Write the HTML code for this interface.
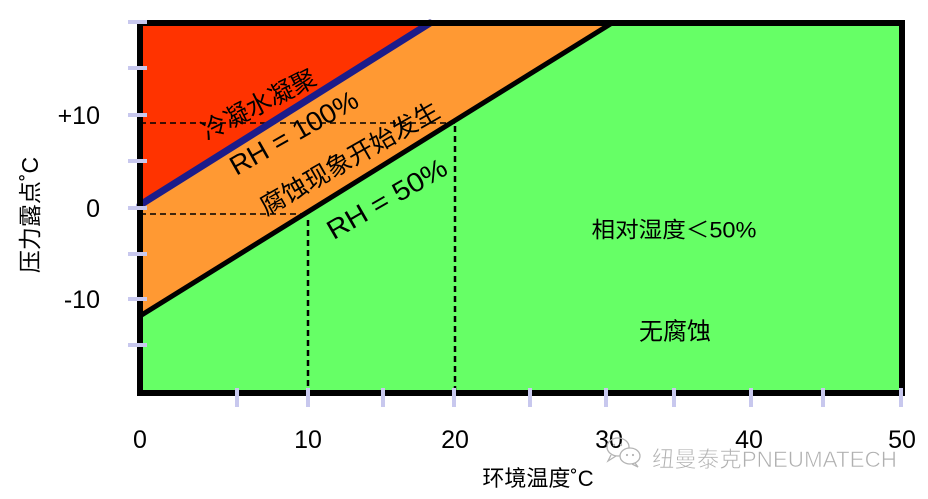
<!DOCTYPE html>
<html><head><meta charset="utf-8">
<style>
html,body{margin:0;padding:0;background:#fff;}
svg{display:block;}
text{font-family:"Liberation Sans","Noto Sans CJK SC",sans-serif;}
</style></head>
<body>
<svg width="928" height="499" viewBox="0 0 928 499" xmlns="http://www.w3.org/2000/svg">
  <rect x="0" y="0" width="928" height="499" fill="#fff"/>
  <!-- regions -->
  <rect x="140" y="23" width="762" height="370" fill="#66ff66"/>
  <polygon points="140,23 612,23 140,316" fill="#ff9933"/>
  <polygon points="140,23 430,23 140,205" fill="#ff3300"/>
  <!-- dashed guides -->
  <g stroke="#000" fill="none">
    <line x1="140" y1="123" x2="455" y2="123" stroke-width="1.5" stroke-dasharray="6 4"/>
    <line x1="455" y1="126" x2="455" y2="393" stroke-width="2.5" stroke-dasharray="6 4"/>
    <line x1="140" y1="214" x2="305" y2="214" stroke-width="1.5" stroke-dasharray="6 4"/>
    <line x1="308" y1="220" x2="308" y2="393" stroke-width="2.5" stroke-dasharray="6 4"/>
  </g>
  <!-- boundary lines -->
  <line x1="140" y1="316" x2="612" y2="23" stroke="#000" stroke-width="5"/>
  <line x1="140" y1="205" x2="430" y2="23" stroke="#1c1c8a" stroke-width="7" stroke-linecap="round"/>
  <!-- frame -->
  <rect x="140" y="23" width="762" height="370" fill="none" stroke="#000" stroke-width="6"/>
  <!-- ticks -->
  <g fill="#c8c8ee">
    <rect x="128" y="20" width="19" height="4"/>
    <rect x="128" y="66" width="19" height="4"/>
    <rect x="128" y="113" width="19" height="4"/>
    <rect x="128" y="159" width="19" height="4"/>
    <rect x="128" y="206" width="19" height="4"/>
    <rect x="128" y="252" width="19" height="4"/>
    <rect x="128" y="297" width="19" height="4"/>
    <rect x="128" y="343" width="19" height="4"/>
    <rect x="235" y="388" width="4" height="19"/>
    <rect x="306" y="388" width="4" height="19"/>
    <rect x="381" y="388" width="4" height="19"/>
    <rect x="452" y="388" width="4" height="19"/>
    <rect x="528" y="388" width="4" height="19"/>
    <rect x="604" y="388" width="4" height="19"/>
    <rect x="672" y="388" width="4" height="19"/>
    <rect x="749" y="388" width="4" height="19"/>
    <rect x="821" y="388" width="4" height="19"/>
    <rect x="899" y="388" width="4" height="19"/>
  </g>
  <!-- y labels -->
  <g font-size="25" fill="#000" text-anchor="end">
    <text x="100" y="124">+10</text>
    <text x="100" y="217">0</text>
    <text x="100" y="308">-10</text>
  </g>
  <!-- x labels -->
  <g font-size="25" fill="#000" text-anchor="middle">
    <text x="140" y="448">0</text>
    <text x="308" y="448">10</text>
    <text x="455" y="448">20</text>
    <text x="609" y="448">30</text>
    <text x="749" y="448">40</text>
    <text x="902" y="448">50</text>
  </g>
  <!-- axis titles -->
  <text x="538" y="486" font-size="22" text-anchor="middle" fill="#000">环境温度˚C</text>
  <text transform="translate(38,215) rotate(-90)" font-size="23" text-anchor="middle" fill="#000">压力露点˚C</text>
  <!-- rotated band labels -->
  <g fill="#000" text-anchor="middle" dominant-baseline="central">
    <text transform="translate(259,105) rotate(-27)" font-size="25" textLength="125" lengthAdjust="spacingAndGlyphs">冷凝水凝聚</text>
    <text transform="translate(294,133) rotate(-29.5)" font-size="27" textLength="143" lengthAdjust="spacingAndGlyphs">RH = 100%</text>
    <text transform="translate(350,159) rotate(-29.7)" font-size="25" textLength="202" lengthAdjust="spacingAndGlyphs">腐蚀现象开始发生</text>
    <text transform="translate(387,199) rotate(-30)" font-size="27" textLength="134" lengthAdjust="spacingAndGlyphs">RH = 50%</text>
  </g>
  <!-- green region text -->
  <g fill="#000" text-anchor="middle" dominant-baseline="central">
    <text x="674" y="230" font-size="22" textLength="165" lengthAdjust="spacingAndGlyphs">相对湿度＜50%</text>
    <text x="675" y="332" font-size="24">无腐蚀</text>
  </g>
  <!-- watermark -->
  <g fill="none" stroke="#b4b4b4" stroke-width="1.3">
    <ellipse cx="618" cy="447" rx="11" ry="9"/>
    <path d="M611,455 L608,461 L616,456"/>
    <ellipse cx="630" cy="456" rx="10" ry="8" fill="#fff"/>
    <path d="M635,463 L638,467 L632,464"/>
  </g>
  <g fill="#b4b4b4">
    <circle cx="614" cy="445" r="1.2"/>
    <circle cx="621" cy="445" r="1.2"/>
    <circle cx="627" cy="455" r="1.1"/>
    <circle cx="633" cy="455" r="1.1"/>
  </g>
  <text x="652" y="467" font-size="22" fill="#b0b0b0" stroke="#fff" stroke-width="0.6" textLength="245" lengthAdjust="spacingAndGlyphs">纽曼泰克PNEUMATECH</text>
</svg>
</body></html>
